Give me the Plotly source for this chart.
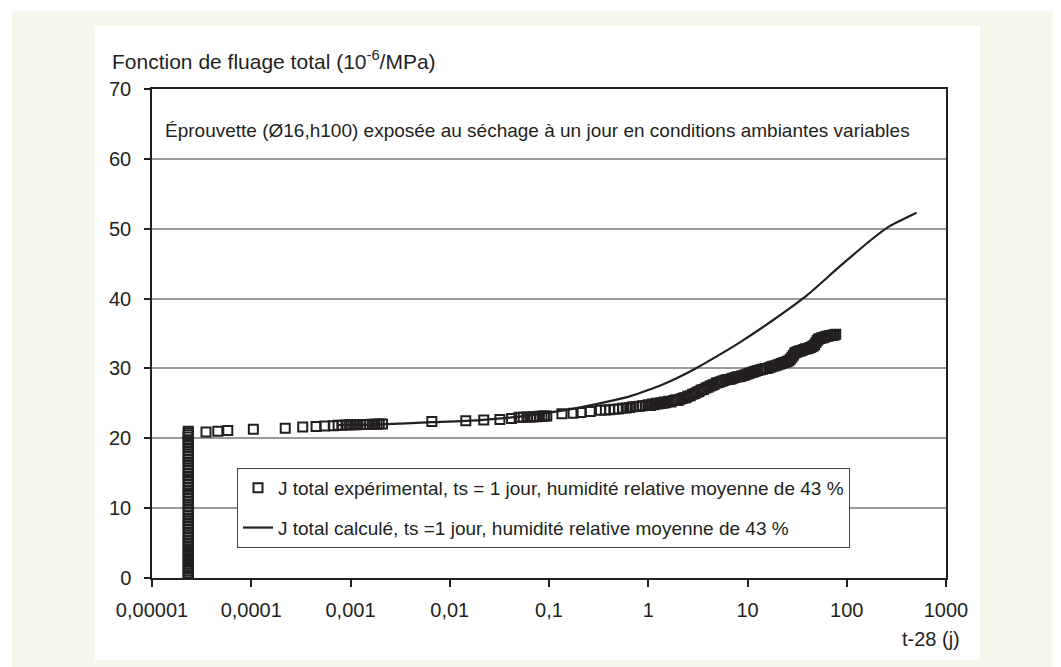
import plotly.graph_objects as go

# experimental points (t-28 in days, J in 1e-6/MPa)
col_t = 0.0000232
col_j = [0, 0.35, 0.7, 1.0, 1.35, 1.7, 2.0, 2.4, 2.8, 3.1, 3.5, 3.9, 4.2, 4.6, 5.0,
         5.4, 5.8, 6.2, 6.6, 7.0, 7.4, 7.8, 8.2, 8.6, 9.0, 9.4, 9.8, 10.2, 10.6,
         11.0, 11.4, 11.8, 12.2, 12.6, 13.0, 13.4, 13.8, 14.2, 14.6, 15.0, 15.4,
         15.8, 16.2, 16.6, 17.0, 17.4, 17.8, 18.2, 18.6, 19.0, 19.4, 19.8, 20.2,
         20.5, 20.8, 21.0]

exp_t = [0.000035, 0.000046, 0.000058, 0.000105, 0.00022, 0.00033, 0.00045, 0.00055,
         0.00067, 0.00075, 0.00082, 0.0009, 0.00098, 0.00106, 0.00115, 0.00125,
         0.00135, 0.00145, 0.00155, 0.00165, 0.00175, 0.00185, 0.00195, 0.0021,
         0.0066, 0.0145, 0.022, 0.032, 0.042, 0.05, 0.055, 0.06, 0.065, 0.07, 0.075,
         0.08, 0.085, 0.09, 0.095, 0.135, 0.175, 0.21, 0.26, 0.33, 0.37, 0.41, 0.45,
         0.5, 0.55, 0.6, 0.65, 0.7, 0.76, 0.82, 0.88, 0.95,
         1.0, 1.05, 1.1, 1.15, 1.2, 1.25, 1.3, 1.35, 1.4, 1.45, 1.5, 1.6, 1.7, 1.8,
         1.9, 2.0, 2.1, 2.2, 2.3, 2.4, 2.5, 2.65, 2.8, 2.95, 3.1, 3.25, 3.4, 3.6,
         3.8, 4.0, 4.2, 4.4, 4.6, 4.85, 5.1, 5.35, 5.6, 5.9, 6.2, 6.5, 6.8, 7.1,
         7.5, 7.9, 8.3, 8.7, 9.1, 9.5, 10, 10.5, 11, 11.5, 12, 12.7, 13.5, 14.2,
         15, 15.7, 16.5, 17.2, 18, 19, 20, 21, 22, 23, 24, 25, 26, 27, 28, 29,
         30, 31, 32, 33, 34, 35.5, 37, 38.5, 40, 41.5, 43, 44.5, 46, 47.5, 49,
         50.5, 52, 54, 56, 58, 60, 62.5, 65, 67.5, 70, 72.5, 75, 77.5, 80]
exp_j = [20.9, 21.0, 21.1, 21.3, 21.45, 21.6, 21.7, 21.75,
         21.8, 21.85, 21.87, 21.9, 21.92, 21.94, 21.95, 21.96,
         21.97, 21.98, 21.99, 22.0, 22.0, 22.02, 22.03, 22.05,
         22.4, 22.5, 22.6, 22.7, 22.85, 23.0, 23.0, 23.05, 23.05, 23.1, 23.1,
         23.15, 23.15, 23.2, 23.2, 23.5, 23.6, 23.7, 23.85, 24.0, 24.05, 24.1, 24.15,
         24.2, 24.3, 24.35, 24.4, 24.5, 24.55, 24.6, 24.65, 24.7,
         24.8, 24.7, 24.9, 24.8, 25.0, 24.9, 25.0, 25.1, 25.0, 25.2, 25.1, 25.3, 25.2, 25.4,
         25.5, 25.4, 25.6, 25.7, 25.8, 25.8, 26.0, 26.1, 26.3, 26.4, 26.6, 26.7, 26.9, 27.0,
         27.2, 27.3, 27.5, 27.6, 27.7, 27.9, 28.0, 28.1, 28.2, 28.3, 28.4, 28.4, 28.5, 28.6,
         28.7, 28.8, 28.8, 28.9, 29.0, 29.1, 29.2, 29.3, 29.4, 29.5, 29.6, 29.7, 29.8, 29.9,
         30.0, 30.0, 30.1, 30.2, 30.3, 30.4, 30.5, 30.6, 30.7, 30.8, 30.9, 31.0, 31.1, 31.3, 31.6, 31.9,
         32.2, 32.3, 32.4, 32.5, 32.5, 32.6, 32.7, 32.8, 32.8, 32.9, 33.0, 33.1, 33.2, 33.4, 33.7,
         34.0, 34.2, 34.3, 34.4, 34.4, 34.5, 34.6, 34.6, 34.7, 34.7, 34.8, 34.8, 34.9]

# calculated curve
calc_t = [0.00073, 0.002, 0.0066, 0.02, 0.05, 0.14, 0.3, 0.65, 1.0, 1.4, 2.0, 3.0,
          5.0, 8.3, 18, 40, 85, 183, 273, 505]
calc_j = [21.9, 22.0, 22.3, 22.6, 23.1, 24.0, 24.9, 26.0, 26.9, 27.7, 28.7, 30.0,
          31.8, 33.7, 36.9, 40.5, 44.6, 48.6, 50.4, 52.3]

x_ticks = [0.00001, 0.0001, 0.001, 0.01, 0.1, 1, 10, 100, 1000]
x_labels = ["0,00001", "0,0001", "0,001", "0,01", "0,1", "1", "10", "100", "1000"]

INK = "#231f20"
FONT = "Liberation Sans, Arial, sans-serif"
FS = 20

# the page adds an 8 px body margin; plot area given in page pixels
OFF = 8
FW, FH = 1061 - OFF, 667 - OFF
L, R, T, B = 152 - OFF, 946 - OFF, 89 - OFF, 578 - OFF
W, H = R - L, B - T


def px(x):
    return (x - OFF - L) / W


def py(y):
    return (B - (y - OFF)) / H


fig = go.Figure()

fig.add_trace(go.Scatter(
    x=[col_t] * len(col_j) + exp_t, y=col_j + exp_j, mode="markers",
    name="J total expérimental, ts = 1 jour, humidité relative moyenne de 43 %",
    marker=dict(symbol="square-open", size=9, color=INK, line=dict(width=2, color=INK)),
    legendgroup="a",
))
fig.add_trace(go.Scatter(
    x=calc_t, y=calc_j, mode="lines",
    name="J total calculé, ts =1 jour, humidité relative moyenne de 43 %",
    line=dict(color=INK, width=2.2, shape="spline", smoothing=0.6),
    legendgroup="b",
))

fig.update_xaxes(
    type="log", range=[-5, 3], tickvals=x_ticks, ticktext=x_labels,
    showgrid=False, ticks="outside", ticklen=7, tickwidth=1.5, tickcolor=INK,
    ticklabelstandoff=6,
    showline=True, linecolor=INK, linewidth=1.5, mirror=True,
    tickfont=dict(family=FONT, size=FS, color=INK), zeroline=False,
)
fig.update_yaxes(
    range=[0, 70], dtick=10, showgrid=True, gridcolor="#9a9a9a", gridwidth=2,
    ticks="outside", ticklen=6, tickwidth=1.5, tickcolor=INK,
    ticklabelstandoff=9,
    showline=True, linecolor=INK, linewidth=1.5, mirror=True,
    tickfont=dict(family=FONT, size=FS, color=INK), zeroline=False,
)

fig.update_layout(
    width=FW, height=FH,
    margin=dict(l=L, r=FW - R, t=T, b=FH - B),
    paper_bgcolor="white", plot_bgcolor="white",
    font=dict(family=FONT, size=FS, color=INK),
    showlegend=True,
    legend=dict(
        x=px(237), y=py(468), xanchor="left", yanchor="top",
        bgcolor="white", bordercolor="#444", borderwidth=1,
        font=dict(family=FONT, size=19, color=INK),
        tracegroupgap=12, traceorder="grouped",
    ),
    shapes=[
        dict(type="rect", xref="paper", yref="paper", layer="below",
             x0=px(12), x1=px(1075), y0=py(680), y1=py(11),
             fillcolor="#f4f7e9", line=dict(width=0)),
        dict(type="rect", xref="paper", yref="paper", layer="below",
             x0=px(95), x1=px(980), y0=py(660), y1=py(26),
             fillcolor="white", line=dict(width=0)),
    ],
    annotations=[
        dict(text="Fonction de fluage total (10<sup>-6</sup>/MPa)", xref="paper", yref="paper",
             x=px(110), y=py(60), xanchor="left", yanchor="middle", showarrow=False,
             font=dict(size=21)),
        dict(text="Éprouvette (Ø16,h100) exposée au séchage à un jour en conditions ambiantes variables",
             xref="paper", yref="paper", x=px(163), y=py(130),
             xanchor="left", yanchor="middle", showarrow=False, font=dict(size=19)),
        dict(text="t-28 (j)", xref="paper", yref="paper", x=px(962), y=py(639),
             xanchor="right", yanchor="middle", showarrow=False),
    ],
)

fig.write_html("out.html")
